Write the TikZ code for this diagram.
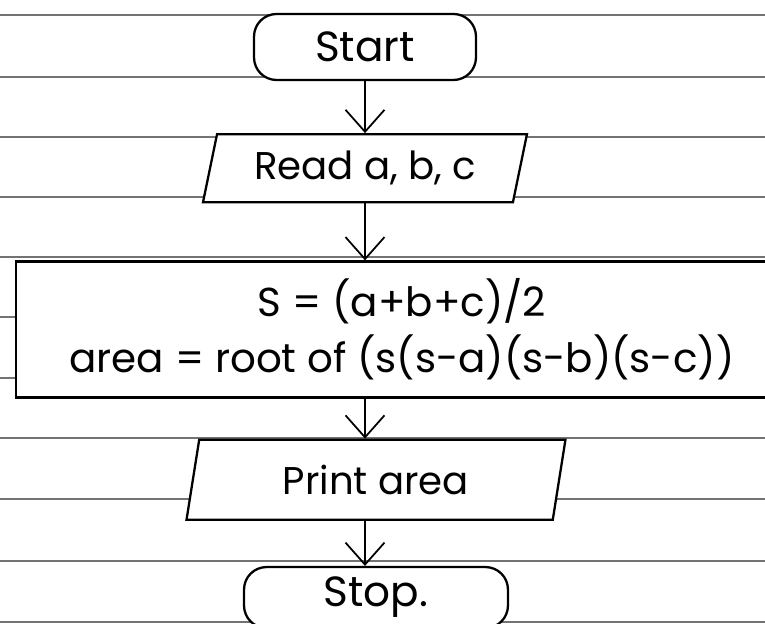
\documentclass[tikz,border=0pt]{standalone}
\usepackage{fontspec}
\setmainfont{Poppins}
\usetikzlibrary{positioning,shapes.geometric,arrows.meta}

\begin{document}
\begin{tikzpicture}[x=0.02cm,y=-0.02cm,
  terminal/.style={rectangle, draw, line width=1.3pt, rounded corners=0.45cm,
    minimum width=4.44cm, minimum height=1.32cm, font=\fontsize{24}{28}\selectfont},
  io/.style={trapezium, trapezium left angle=73, trapezium right angle=107,
    trapezium stretches body, draw, line width=1.3pt, minimum width=6.48cm,
    minimum height=1.36cm, font=\fontsize{22}{26}\selectfont},
  process/.style={rectangle, draw, line width=1.3pt, minimum width=15.44cm,
    minimum height=2.72cm, align=center, font=\fontsize{23}{32}\selectfont},
  arr/.style={-{Straight Barb[length=0.44cm,width=0.78cm]}, line width=1pt},
  rule/.style={black!55, line width=0.6pt}
]
\useasboundingbox (0,0) rectangle (765,624);
\clip (0,0) rectangle (765,624);
\fill[white] (0,0) rectangle (765,624);
\foreach \y in {15,77,137,197,257,317,378,438,499,561,622}
  \draw[rule] (0,\y) -- (765,\y);
\node[terminal,fill=white] (start) at (365,47) {Start};
\node[io,fill=white,below=1.04cm of start] (read) {Read a, b, c};
\node[process,fill=white,below=1.14cm of read,xshift=0.74cm] (calc)
  {S = (a+b+c)/2\\area = root of (s(s-a)(s-b)(s-c))};
\node[io,fill=white,below=0.8cm of calc,xshift=-0.52cm,minimum width=7.58cm,minimum height=1.6cm] (print) {Print area};
\node[terminal,fill=white,below=0.9cm of print,minimum width=5.28cm,minimum height=1.22cm] (stop) {Stop.};
\draw[arr] (start) -- (read);
\draw[arr] (read.south) -- (read.south |- calc.north);
\draw[arr] (calc.south -| read.south) -- (read.south |- print.north);
\draw[arr] (print.south -| read.south) -- (read.south |- stop.north);
\end{tikzpicture}
\end{document}
